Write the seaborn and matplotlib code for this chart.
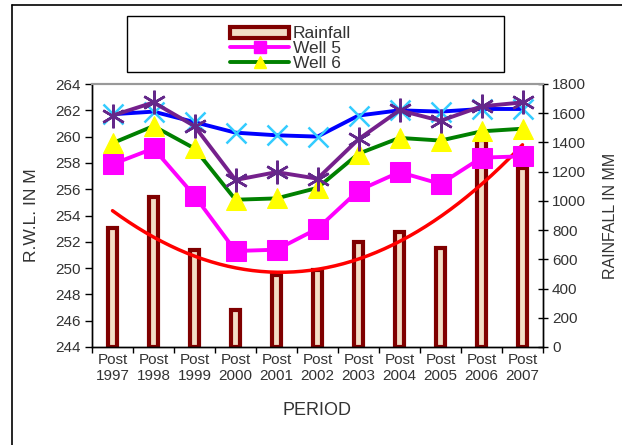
import numpy as np
import pandas as pd
import matplotlib
matplotlib.use("Agg")
import matplotlib.pyplot as plt
from matplotlib.lines import Line2D
from matplotlib.patches import Rectangle, Patch
import seaborn as sns

# ---- data ----
periods = ["Post\n1997", "Post\n1998", "Post\n1999", "Post\n2000", "Post\n2001", "Post\n2002",
           "Post\n2003", "Post\n2004", "Post\n2005", "Post\n2006", "Post\n2007"]
rainfall = [814, 1027, 664, 253, 493, 527, 719, 787, 678, 1420, 1225]
well5 = [257.9, 259.1, 255.5, 251.3, 251.4, 253.0, 255.9, 257.3, 256.4, 258.4, 258.5]
well6 = [259.5, 260.8, 259.1, 255.2, 255.3, 256.1, 258.7, 259.9, 259.7, 260.4, 260.6]
well7 = [261.7, 261.9, 261.1, 260.3, 260.1, 260.0, 261.6, 262.0, 261.9, 262.1, 262.1]
well8 = [261.6, 262.6, 260.8, 256.7, 257.3, 256.8, 259.8, 262.0, 261.2, 262.3, 262.6]
left_ticks = list(range(244, 265, 2))
right_ticks = list(range(0, 1801, 200))

sns.set_theme(style="white")
plt.rcParams["font.family"] = ["Liberation Sans", "DejaVu Sans"]

fig = plt.figure(figsize=(6.22, 4.45), dpi=100)
W, H = 622, 445
ax = fig.add_axes([92 / W, 1 - 347 / H, (543 - 92) / W, (347 - 84) / H])
ax2 = ax.twinx()

idx = np.arange(len(periods))
df = pd.DataFrame({"idx": idx, "period": periods, "rain": rainfall,
                   "w5": well5, "w6": well6, "w7": well7, "w8": well8})

# rainfall bars on the secondary axis (drawn behind)
sns.barplot(data=df, x="idx", y="rain", ax=ax2, native_scale=True, width=0.22,
            color="#F3DDC6", edgecolor="#800000", linewidth=3, saturation=1)
# polynomial (order 2) trend of rainfall
coef = np.polyfit(idx, rainfall, 2)
xs = np.linspace(0, len(periods) - 1, 200)
ax2.plot(xs, np.polyval(coef, xs), color="#FF0000", lw=2.5)
ax2.set_ylim(0, 1800)
ax2.set_yticks(right_ticks)
ax2.set_ylabel("RAINFALL IN MM", fontsize=11.5, color="#333333", labelpad=12)

# well lines on the primary axis
ax.set_zorder(ax2.get_zorder() + 1)
ax.patch.set_visible(False)
sns.lineplot(data=df, x="idx", y="w5", ax=ax, color="#FF00FF", lw=2.8, marker="s",
             markersize=14, markerfacecolor="#FF00FF", markeredgecolor="#FF00FF")
sns.lineplot(data=df, x="idx", y="w6", ax=ax, color="#008000", lw=2.8, marker="^",
             markersize=15, markerfacecolor="#FFFF00", markeredgecolor="#FFFF00")
sns.lineplot(data=df, x="idx", y="w7", ax=ax, color="#0000FF", lw=2.8, marker="x",
             markersize=14, markeredgecolor="#33CCFF", markeredgewidth=1.8)
sns.lineplot(data=df, x="idx", y="w8", ax=ax, color="#75208C", lw=2.8, marker=(6, 2, 0),
             markersize=17, markeredgecolor="#64288A", markeredgewidth=1.8)

ax.set_xlim(-0.5, len(periods) - 0.5)
ax.set_ylim(244, 264)
ax.set_yticks(left_ticks)
ax.set_xticks(idx)
ax.set_xticklabels(periods)
ax.set_xticks(np.arange(-0.5, len(periods), 1.0), minor=True)
ax.set_xlabel("PERIOD", fontsize=13, color="#333333", labelpad=14)
ax.set_ylabel("R.W.L. IN M", fontsize=12.5, color="#333333", labelpad=12)

for a in (ax, ax2):
    for s in a.spines.values():
        s.set_color("black")
        s.set_linewidth(1.0)
    a.spines["top"].set_color("#999999")
    a.spines["top"].set_linewidth(1.5)
    a.grid(False)

ax.tick_params(axis="y", which="major", direction="out", length=5, width=1,
               colors="black", labelsize=11, labelcolor="#333333", left=True, pad=3)
ax.tick_params(axis="x", which="major", length=0, labelsize=11, labelcolor="#333333", pad=4)
ax.tick_params(axis="x", which="minor", direction="out", length=4, width=1, bottom=True,
               colors="black")
ax2.tick_params(axis="y", direction="inout", length=7, width=1, colors="black",
                labelsize=11, labelcolor="#333333", right=True, pad=3)
ax2.set_xlabel("")

# legend inside a box at the top
fig.add_artist(Rectangle((127 / W, 1 - 72 / H), (504 - 127) / W, (72 - 16) / H,
                         transform=fig.transFigure, facecolor="white", edgecolor="black",
                         lw=1.0))
handles = [Patch(facecolor="#F3DDC6", edgecolor="#800000", linewidth=3),
           Line2D([], [], color="#FF00FF", lw=2.8, marker="s", markersize=9,
                  markerfacecolor="#FF00FF", markeredgecolor="#FF00FF"),
           Line2D([], [], color="#008000", lw=2.8, marker="^", markersize=9,
                  markerfacecolor="#FFFF00", markeredgecolor="#FFFF00")]
leg = fig.legend(handles, ["Rainfall", "Well 5", "Well 6"], loc="upper left",
                 bbox_to_anchor=(218 / W, 1 - 14 / H), frameon=False, fontsize=12.5,
                 handlelength=3.4, handleheight=0.6, labelspacing=0.0,
                 handletextpad=0.2, borderpad=0.2)
for t in leg.get_texts():
    t.set_color("#333333")

# outer chart border (left and top)
fig.add_artist(Line2D([12 / W, 12 / W], [0, 1 - 5 / H], transform=fig.transFigure,
                      color="black", lw=1.2))
fig.add_artist(Line2D([12 / W, 1], [1 - 5 / H, 1 - 5 / H], transform=fig.transFigure,
                      color="black", lw=1.2))

fig.savefig("out.png", dpi=100)
